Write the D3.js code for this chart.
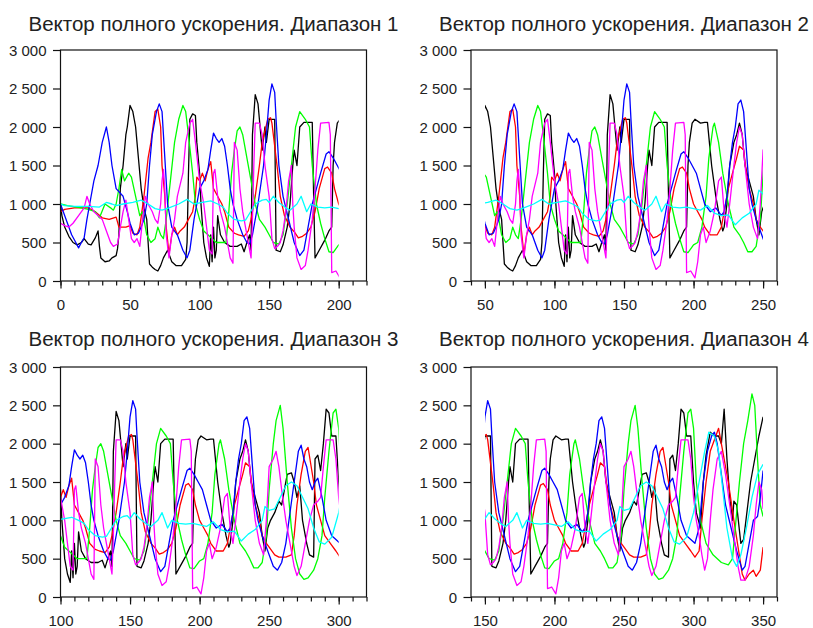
<!DOCTYPE html>
<html><head><meta charset="utf-8">
<script src="https://cdn.jsdelivr.net/npm/d3@7"></script>
<style>body{margin:0;background:#fff}svg{display:block}</style>
</head><body>
<svg id="c" width="813" height="628"></svg>
<script>
const titles = ["Вектор полного ускорения. Диапазон 1","Вектор полного ускорения. Диапазон 2","Вектор полного ускорения. Диапазон 3","Вектор полного ускорения. Диапазон 4"];
const ranges = [[0,200],[50,250],[100,300],[150,350]];
const domains = [[0,220],[40,260],[100,320],[140,360]];
const xTicks = [[0,50,100,150,200],[50,100,150,200,250],[100,150,200,250,300],[150,200,250,300,350]];
const yTicks = [0,500,1000,1500,2000,2500,3000];

const black = [[0,1000],[1,850],[3,700],[6,580],[9,500],[12,470],[15,500],[17,550],[20,480],[22,470],[25,560],[27,650],[28,450],[29,300],[32,250],[35,260],[37,300],[40,330],[41,420],[42,600],[43,1200],[45,1500],[47,1900],[48,2000],[50,2280],[52,2200],[54,2000],[56,1600],[58,1200],[60,950],[62,800],[63,500],[64,220],[66,180],[68,150],[70,130],[72,200],[74,300],[77,400],[79,300],[80,250],[83,200],[87,200],[90,280],[91,500],[92,1400],[93,2100],[95,2170],[97,2150],[98,1800],[100,1400],[101,1000],[103,500],[105,300],[107,190],[108,600],[109,250],[110,700],[111,300],[112,400],[113,850],[115,600],[118,500],[122,450],[127,450],[130,480],[132,380],[134,500],[136,600],[137,400],[138,1900],[140,2420],[142,2300],[143,2100],[145,1700],[147,2000],[148,1800],[150,2100],[154,2100],[155,400],[158,380],[160,470],[163,700],[165,1000],[167,1500],[168,1700],[170,1500],[172,2000],[175,2060],[181,2060],[182,1100],[183,300],[186,400],[190,530],[193,650],[195,700],[196,1500],[197,1800],[199,2050],[201,2100],[205,2050],[208,2060],[210,2060],[213,1500],[216,1100],[219,800],[221,650],[222,700],[224,1000],[226,1500],[229,1800],[231,1900],[233,2050],[235,1900],[237,1500],[240,1300],[243,1100],[245,800],[247,600],[249,900],[251,1000],[254,1100],[257,1250],[259,1200],[261,1400],[263,1600],[266,1620],[268,1500],[270,1300],[272,1450],[274,1000],[277,700],[279,550],[282,520],[283,1800],[285,1850],[287,1650],[289,2000],[291,2450],[293,2400],[295,2100],[298,2100],[300,1500],[302,1100],[305,900],[307,1500],[309,1850],[312,2150],[315,2100],[318,2100],[320,2000],[322,2450],[324,1800],[326,1300],[328,1000],[329,1250],[331,1200],[334,700],[336,750],[339,1200],[341,1500],[344,1800],[347,2100],[350,2350]];

const red = [[0,900],[3,930],[10,950],[20,950],[25,900],[30,820],[35,800],[40,830],[42,700],[47,700],[50,720],[52,620],[55,600],[57,700],[60,1100],[63,1600],[65,1800],[68,2200],[70,2230],[72,2000],[73,1500],[75,1100],[76,700],[78,350],[80,600],[82,700],[84,600],[86,650],[89,700],[92,800],[95,900],[97,1100],[98,1350],[100,1300],[102,1400],[104,1300],[106,1450],[108,1550],[110,1200],[113,1100],[116,1000],[118,900],[121,700],[125,620],[128,600],[132,580],[135,650],[137,800],[140,1100],[143,1500],[145,1800],[149,2100],[151,2120],[152,2050],[154,1750],[156,1450],[158,1100],[161,850],[165,700],[168,640],[171,560],[174,580],[177,620],[180,700],[183,900],[186,1200],[190,1460],[192,1480],[195,1400],[197,1200],[200,1000],[203,900],[206,800],[208,700],[212,600],[217,600],[220,700],[222,900],[225,1200],[228,1400],[231,1600],[233,1750],[236,1700],[238,1400],[240,1200],[243,1000],[245,800],[248,700],[250,650],[254,550],[257,520],[262,520],[266,550],[268,800],[270,1200],[273,1600],[276,1900],[278,1950],[282,1500],[284,1200],[287,1000],[290,800],[294,700],[298,600],[301,520],[304,600],[306,1000],[309,1500],[312,1900],[316,2100],[318,2200],[321,1900],[325,1500],[329,1000],[332,650],[335,300],[337,220],[340,300],[343,350],[345,270],[348,350],[350,650]];

const green = [[0,1000],[5,980],[15,950],[20,930],[25,900],[28,820],[32,1000],[36,950],[38,920],[40,1000],[42,1200],[44,1450],[46,1300],[49,1400],[51,1350],[54,1100],[57,850],[59,900],[62,600],[65,500],[68,550],[70,700],[72,600],[74,550],[76,800],[79,1300],[82,1800],[85,2100],[88,2280],[90,2200],[92,1900],[95,1400],[97,1000],[100,800],[103,650],[106,600],[109,550],[112,500],[119,500],[121,900],[123,1400],[125,1700],[127,1950],[129,2000],[131,1900],[134,1600],[137,1300],[140,1000],[143,800],[147,700],[150,600],[153,500],[157,480],[160,600],[163,1000],[166,1500],[169,2000],[172,2200],[176,2100],[179,2000],[181,1500],[184,1000],[187,750],[190,550],[193,380],[196,370],[200,470],[203,500],[206,700],[209,1100],[211,1600],[214,2000],[215,2050],[218,1800],[221,1400],[225,1000],[229,700],[233,600],[236,500],[239,380],[242,380],[245,450],[248,800],[250,1400],[253,2000],[255,2300],[258,2500],[260,2200],[263,1500],[266,900],[269,500],[272,300],[275,230],[278,250],[282,350],[285,500],[288,800],[290,1300],[293,1900],[296,2400],[298,2450],[300,2200],[302,1500],[305,1000],[309,700],[314,550],[320,450],[325,420],[328,500],[330,900],[333,1500],[336,2000],[339,2300],[342,2650],[344,2500],[346,1800],[348,1200],[350,1050]];

const blue = [[0,1000],[2,900],[5,750],[8,600],[11,500],[13,430],[15,500],[17,560],[19,800],[21,1000],[24,1300],[27,1500],[30,1800],[33,2000],[35,1800],[37,1500],[40,1200],[45,1100],[48,900],[50,750],[53,600],[56,620],[58,700],[60,800],[62,1000],[64,1500],[66,1900],[69,2200],[71,2300],[73,2200],[75,1600],[77,1000],[80,700],[84,600],[88,400],[91,300],[93,400],[96,800],[100,1200],[103,1300],[106,1450],[108,1700],[110,1920],[112,1850],[114,1800],[116,1850],[118,1750],[120,1500],[122,1200],[124,1000],[127,800],[131,600],[134,500],[136,480],[138,600],[142,1000],[146,1500],[148,1900],[150,2350],[152,2560],[154,2450],[155,2100],[157,1500],[160,1100],[164,800],[168,500],[172,330],[175,400],[178,700],[181,1000],[184,1200],[187,1400],[191,1650],[193,1680],[196,1600],[199,1500],[202,1400],[205,1200],[208,1000],[212,900],[216,950],[218,900],[220,850],[222,900],[224,1100],[226,1500],[228,1800],[230,2000],[232,2300],[234,2350],[236,2200],[238,1700],[240,1200],[242,1000],[245,800],[249,600],[253,400],[256,350],[259,450],[262,700],[265,1100],[268,1500],[271,1900],[273,1980],[275,1800],[277,1700],[279,1500],[281,1400],[283,1500],[285,1550],[288,1300],[291,1000],[295,800],[298,750],[301,700],[304,900],[307,1500],[310,1900],[313,2100],[315,2150],[317,2000],[320,1600],[323,1200],[327,900],[331,600],[335,350],[337,400],[340,700],[343,1000],[346,1050],[348,1300],[350,1650]];

const magenta = [[0,750],[3,720],[6,700],[9,750],[13,850],[17,950],[19,1100],[21,1000],[24,900],[27,850],[30,800],[33,650],[36,500],[38,450],[41,480],[43,700],[45,900],[47,1050],[49,800],[51,550],[53,500],[55,550],[57,450],[59,800],[61,1100],[63,1000],[66,900],[68,800],[70,750],[72,1000],[73,1300],[74,1450],[75,1200],[76,600],[78,300],[80,600],[82,800],[84,1100],[88,1400],[90,1800],[93,2050],[95,2100],[97,1800],[100,1300],[103,1000],[105,700],[107,400],[109,350],[110,1400],[111,1450],[113,1100],[115,900],[118,700],[120,500],[122,300],[124,230],[125,1800],[127,1700],[129,1200],[131,900],[133,700],[135,500],[137,300],[138,800],[139,1500],[140,2050],[143,2050],[145,1900],[147,1500],[150,1100],[152,550],[154,420],[156,450],[158,500],[160,650],[162,900],[164,1300],[166,1500],[167,1000],[168,700],[170,300],[173,150],[176,200],[178,400],[181,800],[183,1200],[185,1700],[187,2050],[193,2060],[194,1900],[195,110],[198,130],[201,40],[203,250],[205,600],[207,700],[209,500],[212,650],[215,900],[218,1300],[220,1350],[222,900],[224,700],[226,1000],[229,1500],[231,1800],[233,2000],[235,1900],[237,1500],[240,1000],[243,700],[246,550],[248,1000],[250,1700],[253,1800],[255,1900],[257,1700],[259,1400],[262,1000],[265,700],[268,400],[270,280],[273,400],[276,700],[279,1000],[282,1200],[285,1250],[287,1300],[289,1700],[291,2050],[296,2050],[298,1800],[300,1300],[302,1000],[304,800],[306,550],[308,350],[310,500],[312,1000],[314,1400],[317,1800],[320,1900],[323,1600],[326,1200],[329,800],[332,400],[334,220],[337,220],[340,400],[343,800],[345,1200],[347,1500],[349,1400],[350,1150]];

const cyan = [[0,1000],[3,980],[10,970],[20,970],[28,960],[33,1020],[37,1000],[40,980],[45,1000],[52,1020],[58,1050],[63,1000],[68,940],[73,920],[78,950],[85,1000],[91,1060],[96,1000],[102,1020],[108,1040],[113,1000],[117,960],[120,880],[125,800],[130,780],[133,790],[136,880],[140,1000],[145,1050],[148,1060],[150,1020],[153,1100],[157,1020],[162,950],[165,920],[170,1000],[173,1100],[175,1000],[177,900],[180,1000],[185,960],[190,950],[195,960],[200,940],[205,920],[210,980],[215,880],[220,850],[225,860],[230,730],[235,820],[240,880],[245,1000],[247,1180],[250,1130],[254,1150],[258,1300],[262,1450],[266,1500],[270,1450],[274,1300],[278,1150],[282,900],[286,720],[290,690],[295,780],[300,1100],[304,1500],[308,1900],[311,2150],[315,2100],[318,1900],[321,1400],[324,900],[328,500],[331,400],[334,550],[338,900],[342,1300],[346,1600],[350,1730]];

const seriesList = [
  {data: black, color: "#000000"},
  {data: red, color: "#ff0000"},
  {data: green, color: "#00ff00"},
  {data: blue, color: "#0000ff"},
  {data: magenta, color: "#ff00ff"},
  {data: cyan, color: "#00ffff"}
];

const layout = [
  {left: 60.5, right: 366.5, top: 50, bottom: 281, titleY: 31},
  {left: 471, right: 777, top: 50, bottom: 281, titleY: 31},
  {left: 60.5, right: 366.5, top: 367, bottom: 597, titleY: 345.5},
  {left: 471, right: 777, top: 367, bottom: 597, titleY: 345.5}
];

const svg = d3.select("#c");
svg.append("rect").attr("width",813).attr("height",628).attr("fill","#fff");
const FONT = "'Liberation Sans', Arial, sans-serif";
const yFmt = v => d3.format(",")(v).replace(/,/g, " ");

layout.forEach((L, i) => {
  const x = d3.scaleLinear().domain(domains[i]).range([L.left, L.right]);
  const y = d3.scaleLinear().domain([0, 3000]).range([L.bottom, L.top]);
  const g = svg.append("g");

  const clipId = "clip" + i;
  svg.append("defs").append("clipPath").attr("id", clipId)
    .append("rect")
    .attr("x", x(ranges[i][0])).attr("y", L.top - 5)
    .attr("width", x(ranges[i][1]) - x(ranges[i][0])).attr("height", L.bottom - L.top + 10);

  const line = d3.line().x(d => x(d[0])).y(d => y(d[1]));
  const lg = g.append("g").attr("clip-path", `url(#${clipId})`);
  seriesList.forEach(s => {
    const pts = s.data.filter(d => d[0] >= ranges[i][0] - 6 && d[0] <= ranges[i][1] + 6);
    lg.append("path").attr("d", line(pts)).attr("fill", "none")
      .attr("stroke", s.color).attr("stroke-width", 1.3).attr("stroke-linejoin", "round");
  });

  g.append("rect").attr("x", L.left).attr("y", L.top)
    .attr("width", L.right - L.left).attr("height", L.bottom - L.top)
    .attr("fill", "none").attr("stroke", "#111").attr("stroke-width", 1.2);

  const minor = d3.range(domains[i][0], domains[i][1] + 0.1, 10);
  const mAx = g.append("g").attr("transform", `translate(0,${L.bottom})`)
    .call(d3.axisBottom(x).tickValues(minor).tickSize(4.5).tickFormat(""));
  mAx.select(".domain").remove();
  mAx.selectAll("line").attr("stroke", "#111").attr("stroke-width", 1.2);

  const xAx = g.append("g").attr("transform", `translate(0,${L.bottom})`)
    .call(d3.axisBottom(x).tickValues(xTicks[i]).tickSize(7.5).tickPadding(10.5).tickFormat(d3.format("d")));
  xAx.select(".domain").remove();
  xAx.selectAll("line").attr("stroke", "#111").attr("stroke-width", 1.2);
  xAx.selectAll("text").attr("font-family", FONT).attr("font-size", 15).attr("fill", "#222");

  const yAx = g.append("g").attr("transform", `translate(${L.left},0)`)
    .call(d3.axisLeft(y).tickValues(yTicks).tickSize(7.5).tickPadding(6.5).tickFormat(yFmt));
  yAx.select(".domain").remove();
  yAx.selectAll("line").attr("stroke", "#111").attr("stroke-width", 1.2);
  yAx.selectAll("text").attr("font-family", FONT).attr("font-size", 15).attr("fill", "#222").attr("dy", "0.35em");

  svg.append("text").attr("x", (L.left + L.right) / 2).attr("y", L.titleY)
    .attr("text-anchor", "middle").attr("font-family", FONT).attr("font-size", 20)
    .attr("textLength", 370).attr("lengthAdjust", "spacingAndGlyphs")
    .attr("fill", "#222").text(titles[i]);
});
</script>
</body></html>
